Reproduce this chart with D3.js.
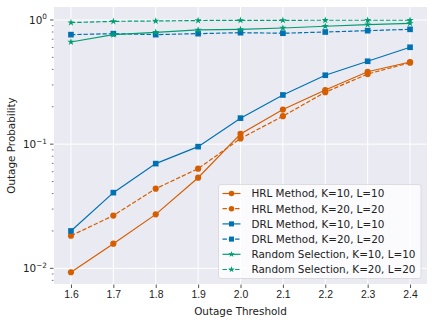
<!DOCTYPE html>
<html>
<head>
<meta charset="utf-8">
<script src="https://cdn.jsdelivr.net/npm/d3@7"></script>
<style>
  body { margin: 0; background: #fff; }
  svg { font-family: "DejaVu Sans", sans-serif; }
</style>
</head>
<body>
<div id="chart"></div>
<script>
var svgWidth = 434;
var svgHeight = 324;

var margin = { top: 7, right: 7, bottom: 40, left: 54 };
var chartWidth = svgWidth - margin.left - margin.right;
var chartHeight = svgHeight - margin.top - margin.bottom;

// data
var thresholds = [1.6, 1.7, 1.8, 1.9, 2.0, 2.1, 2.2, 2.3, 2.4];
var hrl10 = [0.0093, 0.0158, 0.0272, 0.0537, 0.121, 0.19, 0.273, 0.383, 0.459];
var hrl20 = [0.0183, 0.0266, 0.0438, 0.0635, 0.111, 0.168, 0.262, 0.367, 0.453];
var drl10 = [0.020, 0.0407, 0.0697, 0.0955, 0.162, 0.249, 0.359, 0.465, 0.603];
var drl20 = [0.762, 0.776, 0.762, 0.776, 0.790, 0.782, 0.800, 0.820, 0.841];
var rand10 = [0.665, 0.762, 0.796, 0.831, 0.840, 0.862, 0.890, 0.917, 0.940];
var rand20 = [0.952, 0.975, 0.982, 0.990, 0.994, 0.994, 0.995, 0.995, 0.995];
var xTicks = [1.6, 1.7, 1.8, 1.9, 2.0, 2.1, 2.2, 2.3, 2.4];
var yTicks = [0.01, 0.1, 1];
var yTickExp = ["\u22122", "\u22121", "0"];

var series = [
  { name: "HRL Method, K=10, L=10", values: hrl10, color: "#d55e00", dash: null, marker: "circle" },
  { name: "HRL Method, K=20, L=20", values: hrl20, color: "#d55e00", dash: "4.4,1.9", marker: "circle" },
  { name: "DRL Method, K=10, L=10", values: drl10, color: "#0072b2", dash: null, marker: "square" },
  { name: "DRL Method, K=20, L=20", values: drl20, color: "#0072b2", dash: "4.4,1.9", marker: "square" },
  { name: "Random Selection, K=10, L=10", values: rand10, color: "#009e73", dash: null, marker: "star" },
  { name: "Random Selection, K=20, L=20", values: rand20, color: "#009e73", dash: "4.4,1.9", marker: "star" }
];

var fontSize = "10.4px";

var svg = d3.select("#chart").append("svg")
  .attr("width", svgWidth)
  .attr("height", svgHeight);

var chartGroup = svg.append("g")
  .attr("transform", `translate(${margin.left}, ${margin.top})`);

var xScale = d3.scaleLinear().domain([1.56, 2.44]).range([0, chartWidth]);
var yScale = d3.scaleLog().domain([0.00748, 1.272]).range([chartHeight, 0]);

// background
chartGroup.append("rect")
  .attr("width", chartWidth)
  .attr("height", chartHeight)
  .attr("fill", "#eaeaf2");

// grid
chartGroup.selectAll(".xgrid").data(xTicks).enter().append("line")
  .attr("x1", d => xScale(d)).attr("x2", d => xScale(d))
  .attr("y1", 0).attr("y2", chartHeight)
  .attr("stroke", "#fff").attr("stroke-width", 1);
chartGroup.selectAll(".ygrid").data(yTicks).enter().append("line")
  .attr("y1", d => yScale(d)).attr("y2", d => yScale(d))
  .attr("x1", 0).attr("x2", chartWidth)
  .attr("stroke", "#fff").attr("stroke-width", 1);

// x axis
var xAxis = chartGroup.append("g")
  .attr("transform", `translate(0, ${chartHeight})`)
  .call(d3.axisBottom(xScale).tickValues(xTicks).tickFormat(d3.format(".1f")).tickSize(3.5).tickPadding(3));
xAxis.select(".domain").remove();
xAxis.selectAll("line").attr("stroke", "#555").attr("transform", "translate(0,0.5)");
xAxis.selectAll("text").attr("font-size", fontSize).attr("fill", "#222");

// y axis major + minor ticks
var minorTicks = [];
[0.001, 0.01, 0.1, 1].forEach(function(base) {
  for (var i = 2; i <= 9; i++) {
    var v = base * i;
    if (v >= 0.00748 && v <= 1.272) minorTicks.push(v);
  }
});
chartGroup.selectAll(".yminor").data(minorTicks).enter().append("line")
  .attr("x1", -2.2).attr("x2", -0.5)
  .attr("y1", d => yScale(d)).attr("y2", d => yScale(d))
  .attr("stroke", "#555").attr("stroke-width", 0.8);
chartGroup.selectAll(".ymajor").data(yTicks).enter().append("line")
  .attr("x1", -4).attr("x2", -0.5)
  .attr("y1", d => yScale(d)).attr("y2", d => yScale(d))
  .attr("stroke", "#555").attr("stroke-width", 1);

var yLabels = chartGroup.selectAll(".ylab").data(yTicks).enter().append("text")
  .attr("x", -7)
  .attr("y", d => yScale(d) + 4)
  .attr("text-anchor", "end")
  .attr("font-size", fontSize)
  .attr("fill", "#222");
yLabels.append("tspan").text("10");
yLabels.append("tspan")
  .attr("dy", "-4.5")
  .attr("font-size", "7.3px")
  .text((d, i) => yTickExp[i]);

// lines
var line = d3.line()
  .x((d, i) => xScale(thresholds[i]))
  .y(d => yScale(d));

function markerPath(type, scale) {
  if (type === "circle") return d3.symbol(d3.symbolCircle, 30 * scale)();
  if (type === "square") return d3.symbol(d3.symbolSquare, 32 * scale)();
  return d3.symbol(d3.symbolStar, 16 * scale)();
}

series.forEach(function(s) {
  var g = chartGroup.append("g");
  g.append("path")
    .datum(s.values)
    .attr("d", line)
    .attr("fill", "none")
    .attr("stroke", s.color)
    .attr("stroke-width", 1.2)
    .attr("stroke-dasharray", s.dash);
  g.selectAll("path.mk").data(s.values).enter().append("path")
    .attr("class", "mk")
    .attr("d", markerPath(s.marker, 1))
    .attr("transform", (d, i) => `translate(${xScale(thresholds[i])}, ${yScale(d)})`)
    .attr("fill", s.color);
});

// legend
var legend = chartGroup.append("g")
  .attr("transform", `translate(${218.5 - margin.left}, ${184.5 - margin.top})`);
legend.append("rect")
  .attr("width", 202.5)
  .attr("height", 94)
  .attr("rx", 2.5)
  .attr("fill", "#ffffff")
  .attr("fill-opacity", 0.8)
  .attr("stroke", "#d6d6d6")
  .attr("stroke-width", 0.8);

series.forEach(function(s, i) {
  var yy = 9 + i * 15.2;
  legend.append("line")
    .attr("x1", 4).attr("x2", 22)
    .attr("y1", yy).attr("y2", yy)
    .attr("stroke", s.color)
    .attr("stroke-width", 1.2)
    .attr("stroke-dasharray", s.dash);
  legend.append("path")
    .attr("d", markerPath(s.marker, 0.8))
    .attr("transform", `translate(13, ${yy})`)
    .attr("fill", s.color);
  legend.append("text")
    .attr("x", 33)
    .attr("y", yy + 3.8)
    .attr("font-size", fontSize)
    .attr("fill", "#222")
    .text(s.name);
});

// axis titles
svg.append("text")
  .attr("x", margin.left + chartWidth / 2)
  .attr("y", 315)
  .attr("text-anchor", "middle")
  .attr("font-size", fontSize)
  .attr("fill", "#222")
  .text("Outage Threshold");

svg.append("text")
  .attr("transform", `translate(15, ${margin.top + chartHeight / 2}) rotate(-90)`)
  .attr("text-anchor", "middle")
  .attr("font-size", fontSize)
  .attr("fill", "#222")
  .text("Outage Probability");
</script>
</body>
</html>
